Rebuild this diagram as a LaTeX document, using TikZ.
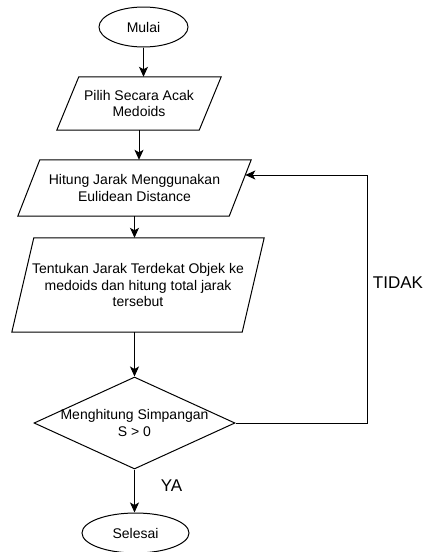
\documentclass[tikz,border=0pt]{standalone}
\usepackage{fontspec}
\setmainfont{Liberation Sans}
\usetikzlibrary{shapes.geometric,arrows.meta}
\tikzset{
  garis/.style={line width=1pt, draw=black},
  panah/.style={garis, -{Stealth[length=10pt, width=9pt, inset=2.5pt]}},
  terminal/.style={ellipse, garis, inner sep=0pt, minimum width=#1, minimum height=40pt},
  proses/.style={inner sep=0pt, align=center,
    append after command={\pgfextra{\draw[garis]
      ([xshift=11pt]\tikzlastnode.north west) -- ([xshift=11pt]\tikzlastnode.north east)
      -- ([xshift=-11pt]\tikzlastnode.south east) -- ([xshift=-11pt]\tikzlastnode.south west) -- cycle;}}},
  keputusan/.style={diamond, garis, inner sep=0pt, minimum width=201pt, minimum height=92pt},
  tulisan/.style={font=\fontsize{17}{20}\selectfont}
}
\begin{document}
\begin{tikzpicture}[x=1pt, y=-1pt, font=\fontsize{14}{16.5}\selectfont]
\useasboundingbox (0,0) rectangle (426,552);
\node[terminal=89pt] (mulai) at (143.5,27) {Mulai};
\node[proses, minimum width=142pt, minimum height=53pt] (pilih) at (139,103.5) {Pilih Secara Acak\\Medoids};
\node[proses, minimum width=211pt, minimum height=56pt] (hitung) at (134.5,188) {Hitung Jarak Menggunakan\\Eulidean Distance};
\node[proses, minimum width=230pt, minimum height=94pt] (tentukan) at (138,285) {Tentukan Jarak Terdekat Objek ke\\medoids dan hitung total jarak\\tersebut};
\node[keputusan, label={[align=center]center:Menghitung Simpangan\\S > 0}] (cek) at (134.5,423) {};
\node[terminal=107pt] (selesai) at (135.5,533) {Selesai};
\node[tulisan] (tidak) at (398,282.5) {TIDAK};
\node[tulisan] (ya) at (171.5,486) {YA};
\coordinate (balik) at (367,175);
\draw[panah] (mulai.south) -- (mulai.south |- pilih.north);
\draw[panah] (pilih.south) -- (pilih.south |- hitung.north);
\draw[panah] (hitung.south) -- (hitung.south |- tentukan.north);
\draw[panah] (tentukan.south -| cek.north) -- (cek.north);
\draw[panah] (cek.south) -- (cek.south |- selesai.north);
\draw[panah] (cek.east) -| (balik) -- ([shift={(5.1pt,13pt)}]hitung.east);
\end{tikzpicture}
\end{document}
